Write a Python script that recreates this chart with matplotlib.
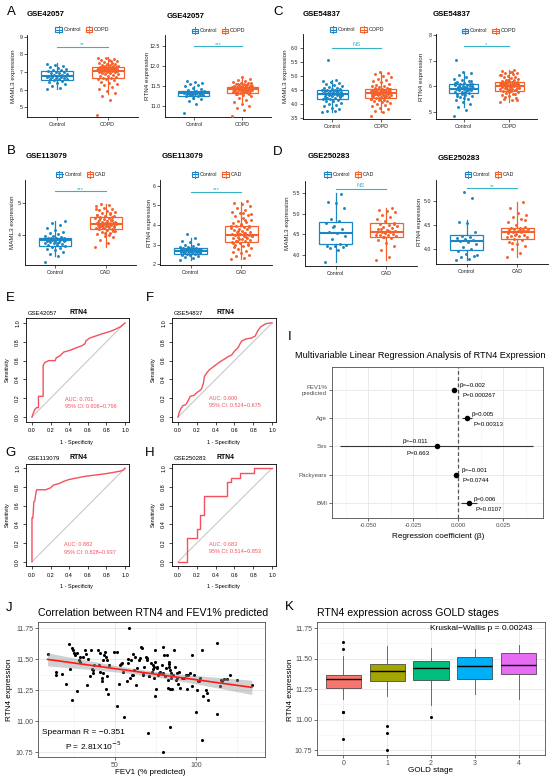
import numpy as np
import matplotlib
matplotlib.use('Agg')
import matplotlib.pyplot as plt
from matplotlib.patches import Rectangle

plt.rcParams['font.family'] = ['Liberation Sans', 'DejaVu Sans']

# ---------------- DATA ----------------
GROUPS_COPD = ['Control', 'COPD']
GROUPS_CAD = ['Control', 'CAD']

# Panel A (GSE42057)
A_MAML3_CTRL = [6.05, 6.12, 6.22, 6.30, 6.38, 6.45, 6.50, 6.55, 6.58, 6.60, 6.63, 6.66, 6.68, 6.70, 6.72,
                6.74, 6.76, 6.77, 6.79, 6.82, 6.85, 6.88, 6.92, 6.95, 6.99, 7.03, 7.06, 7.09, 7.12, 7.18,
                7.24, 7.30, 7.36, 7.42, 7.47]
A_MAML3_COPD = [4.55, 5.40, 5.65, 5.80, 5.95, 6.05, 6.15, 6.25, 6.32, 6.40, 6.46, 6.52, 6.58, 6.62, 6.65,
                6.68, 6.72, 6.76, 6.80, 6.84, 6.88, 6.91, 6.94, 6.97, 6.99, 7.01, 7.03, 7.04, 7.05, 7.06,
                7.07, 7.08, 7.09, 7.10, 7.11, 7.12, 7.13, 7.14, 7.15, 7.16, 7.17, 7.18, 7.19, 7.20, 7.21,
                7.22, 7.23, 7.24, 7.25, 7.26, 7.27, 7.28, 7.30, 7.32, 7.34, 7.36, 7.38, 7.40, 7.43, 7.46,
                7.50, 7.54, 7.58, 7.62, 7.66, 7.70, 7.74, 7.78, 7.82, 7.60]
A_RTN4_CTRL = [10.83, 11.05, 11.12, 11.18, 11.21, 11.24, 11.26, 11.27, 11.28, 11.29, 11.30, 11.31, 11.31,
               11.32, 11.32, 11.33, 11.33, 11.34, 11.35, 11.35, 11.36, 11.37, 11.38, 11.40, 11.42, 11.45,
               11.50, 11.53, 11.55, 11.58, 11.60, 11.63, 11.30, 11.28, 11.34]
A_RTN4_COPD = [10.75, 10.90, 10.95, 11.00, 11.05, 11.10, 11.15, 11.20, 11.24, 11.27, 11.30, 11.32, 11.33,
               11.34, 11.35, 11.36, 11.37, 11.38, 11.39, 11.40, 11.40, 11.41, 11.41, 11.42, 11.42, 11.43,
               11.43, 11.44, 11.44, 11.45, 11.45, 11.46, 11.46, 11.47, 11.47, 11.48, 11.48, 11.49, 11.50,
               11.51, 11.52, 11.53, 11.54, 11.55, 11.56, 11.57, 11.58, 11.60, 11.62, 11.65, 11.68, 11.72,
               11.36, 11.38, 11.44, 11.49, 11.35, 11.31, 11.29, 11.39, 11.47, 11.52, 11.55, 11.58, 11.42, 11.45]
# box stats: (q1, median, q3, whisker_low, whisker_high)
A_MAML3_BOX = [(6.56, 6.77, 7.08, 6.06, 7.49), (6.67, 7.08, 7.27, 5.78, 7.83)]
A_RTN4_BOX = [(11.26, 11.32, 11.37, 11.17, 11.49), (11.33, 11.43, 11.48, 11.09, 11.72)]

# Panel C (GSE54837)
C_MAML3_CTRL = [3.70, 3.72, 3.75, 3.80, 3.85, 3.90, 3.95, 4.00, 4.04, 4.08, 4.11, 4.14, 4.16, 4.18, 4.20,
                4.22, 4.24, 4.26, 4.28, 4.30, 4.31, 4.32, 4.33, 4.34, 4.35, 4.36, 4.37, 4.38, 4.40, 4.41,
                4.42, 4.44, 4.45, 4.46, 4.48, 4.49, 4.50, 4.52, 4.54, 4.56, 4.58, 4.60, 4.63, 4.66, 4.70,
                4.74, 4.78, 4.82, 4.85, 5.56, 4.27, 4.39, 4.21, 4.47, 4.36]
C_MAML3_COPD = [3.55, 3.70, 3.75, 3.80, 3.85, 3.90, 3.94, 3.98, 4.02, 4.05, 4.08, 4.11, 4.14, 4.17, 4.19,
                4.21, 4.23, 4.25, 4.27, 4.28, 4.30, 4.31, 4.32, 4.33, 4.34, 4.35, 4.36, 4.37, 4.38, 4.39,
                4.40, 4.41, 4.42, 4.43, 4.44, 4.45, 4.46, 4.47, 4.48, 4.49, 4.50, 4.51, 4.52, 4.53, 4.55,
                4.57, 4.59, 4.62, 4.65, 4.68, 4.72, 4.76, 4.80, 4.85, 4.90, 4.95, 5.00, 5.05, 5.10, 5.15,
                4.26, 4.29, 4.36, 4.41, 4.46, 4.33, 4.38, 4.22, 4.18, 4.12, 4.48, 4.52, 4.43, 4.35]
C_RTN4_CTRL = [4.83, 5.07, 5.20, 5.30, 5.38, 5.45, 5.52, 5.58, 5.63, 5.67, 5.70, 5.73, 5.76, 5.79, 5.82,
               5.84, 5.86, 5.88, 5.90, 5.91, 5.92, 5.94, 5.96, 5.98, 6.00, 6.02, 6.04, 6.06, 6.08, 6.10,
               6.13, 6.16, 6.20, 6.25, 6.30, 6.36, 6.42, 6.50, 6.57, 7.02, 5.85, 5.95, 6.01, 5.78, 5.89,
               6.07, 5.68, 6.12, 5.93, 5.99, 6.22, 5.55, 5.61]
C_RTN4_COPD = [5.39, 5.45, 5.50, 5.55, 5.60, 5.65, 5.70, 5.74, 5.78, 5.81, 5.83, 5.85, 5.87, 5.89, 5.91,
               5.93, 5.95, 5.97, 5.98, 5.99, 6.00, 6.01, 6.02, 6.03, 6.04, 6.05, 6.06, 6.07, 6.08, 6.09,
               6.10, 6.11, 6.12, 6.13, 6.14, 6.15, 6.16, 6.17, 6.19, 6.21, 6.23, 6.26, 6.29, 6.32, 6.35,
               6.38, 6.41, 6.44, 6.47, 6.50, 6.53, 6.56, 6.60, 6.63, 5.88, 5.94, 6.02, 6.08, 5.84, 5.76,
               6.13, 6.18, 5.96, 6.04, 5.91, 6.10, 5.68, 6.25, 6.45, 6.55, 5.58, 5.48]
C_MAML3_BOX = [(4.18, 4.33, 4.50, 3.71, 4.85), (4.21, 4.39, 4.53, 3.69, 5.15)]
C_RTN4_BOX = [(5.72, 5.91, 6.08, 5.20, 6.57), (5.82, 6.00, 6.17, 5.39, 6.63)]

# Panel B (GSE113079)
B_MAML3_CTRL = [3.16, 3.32, 3.40, 3.46, 3.52, 3.56, 3.60, 3.63, 3.65, 3.67, 3.69, 3.71, 3.73, 3.75, 3.77,
                3.79, 3.80, 3.81, 3.82, 3.83, 3.84, 3.85, 3.86, 3.86, 3.87, 3.87, 3.88, 3.88, 3.89, 3.89,
                3.90, 3.91, 3.93, 3.95, 3.98, 4.02, 4.06, 4.10, 4.16, 4.22, 4.30, 4.38, 4.44, 3.74, 3.83]
B_MAML3_CAD = [3.61, 3.75, 3.85, 3.92, 3.98, 4.03, 4.07, 4.10, 4.13, 4.15, 4.17, 4.19, 4.21, 4.23, 4.25,
               4.27, 4.28, 4.29, 4.30, 4.31, 4.32, 4.33, 4.34, 4.35, 4.36, 4.37, 4.38, 4.39, 4.40, 4.42,
               4.44, 4.46, 4.48, 4.50, 4.52, 4.54, 4.56, 4.58, 4.60, 4.63, 4.66, 4.69, 4.72, 4.75, 4.78,
               4.82, 4.86, 4.90, 4.94, 4.98, 4.26, 4.33, 4.41, 4.47, 4.22, 4.36, 4.29, 4.53, 4.12, 4.05,
               4.62, 4.70, 4.31, 4.38, 4.45, 4.24, 4.57, 4.35, 4.80, 4.00]
B_RTN4_CTRL = [2.22, 2.30, 2.36, 2.41, 2.45, 2.48, 2.51, 2.53, 2.55, 2.57, 2.59, 2.61, 2.63, 2.64, 2.65,
               2.66, 2.67, 2.68, 2.69, 2.70, 2.71, 2.72, 2.73, 2.74, 2.75, 2.76, 2.77, 2.78, 2.79, 2.80,
               2.81, 2.82, 2.84, 2.87, 2.90, 2.94, 2.98, 3.04, 3.12, 3.20, 3.33, 3.52, 2.62, 2.72, 2.58]
B_RTN4_CAD = [2.26, 2.32, 2.40, 2.48, 2.55, 2.62, 2.70, 2.78, 2.85, 2.92, 2.98, 3.04, 3.08, 3.12, 3.16,
              3.20, 3.24, 3.28, 3.32, 3.36, 3.40, 3.43, 3.46, 3.48, 3.50, 3.52, 3.55, 3.58, 3.62, 3.66,
              3.70, 3.74, 3.78, 3.82, 3.86, 3.90, 3.94, 3.97, 4.02, 4.08, 4.14, 4.20, 4.28, 4.36, 4.44,
              4.52, 4.60, 4.68, 4.76, 4.85, 4.95, 5.05, 5.15, 5.25, 3.30, 3.45, 3.60, 3.18, 3.88, 4.05,
              3.10, 3.38, 3.72, 4.55, 4.62, 2.88, 3.00, 3.53, 3.95, 4.25]
B_MAML3_BOX = [(3.66, 3.84, 3.90, 3.32, 4.44), (4.18, 4.34, 4.56, 3.61, 4.98)]
B_RTN4_BOX = [(2.53, 2.70, 2.82, 2.22, 3.33), (3.12, 3.50, 3.97, 2.26, 5.20)]

# Panel D (GSE250283)
D_MAML3_CTRL = [3.83, 4.12, 4.15, 4.18, 4.20, 4.22, 4.26, 4.38, 4.45, 4.52, 4.56, 4.62, 4.70, 4.78, 4.82,
                4.86, 5.15, 5.25, 5.29, 5.48, 4.68, 4.24]
D_MAML3_CAD = [3.87, 3.93, 4.10, 4.20, 4.28, 4.35, 4.40, 4.43, 4.45, 4.47, 4.49, 4.50, 4.52, 4.54, 4.55,
               4.56, 4.58, 4.60, 4.62, 4.65, 4.68, 4.70, 4.73, 4.76, 4.78, 4.82, 4.87, 4.93, 4.98, 5.03,
               5.07, 5.10, 5.13, 4.42, 4.48, 4.57, 4.63, 4.75]
D_RTN4_CTRL = [3.77, 3.80, 3.83, 3.86, 3.90, 3.95, 4.00, 4.05, 4.10, 4.15, 4.17, 4.18, 4.20, 4.22, 4.25,
               4.28, 4.35, 4.53, 4.57, 5.05, 5.19, 3.88]
D_RTN4_CAD = [3.84, 3.92, 4.00, 4.06, 4.10, 4.14, 4.18, 4.21, 4.24, 4.26, 4.28, 4.30, 4.32, 4.34, 4.35,
              4.36, 4.37, 4.38, 4.39, 4.40, 4.41, 4.42, 4.43, 4.44, 4.46, 4.50, 4.55, 4.62, 4.66, 4.70,
              4.75, 4.85, 4.98, 4.30, 4.25, 4.40, 4.12, 4.60]
D_MAML3_BOX = [(4.25, 4.52, 4.79, 3.83, 5.50), (4.42, 4.55, 4.78, 3.87, 5.13)]
D_RTN4_BOX = [(3.98, 4.17, 4.30, 3.77, 4.60), (4.21, 4.36, 4.44, 3.84, 4.98)]

SIG_LABELS = {'A1': '**', 'A2': '***', 'C1': 'NS', 'C2': '*', 'B1': '***', 'B2': '***', 'D1': 'NS', 'D2': '**'}

# ROC curves (1 - specificity, sensitivity)
E_FPR = [0, 0.01, 0.03, 0.05, 0.07, 0.07, 0.12, 0.12, 0.14, 0.18, 0.25, 0.26, 0.30, 0.34, 0.41, 0.46,
         0.54, 0.57, 0.58, 0.62, 0.68, 0.77, 0.84, 0.89, 0.95, 1.0]
E_TPR = [0, 0.03, 0.08, 0.10, 0.10, 0.22, 0.22, 0.55, 0.58, 0.60, 0.60, 0.63, 0.65, 0.69, 0.71, 0.73,
         0.76, 0.78, 0.81, 0.84, 0.86, 0.89, 0.91, 0.93, 0.96, 1.0]
F_FPR = [0, 0.01, 0.03, 0.05, 0.08, 0.10, 0.13, 0.17, 0.20, 0.23, 0.25, 0.27, 0.28, 0.30, 0.33, 0.37,
         0.41, 0.45, 0.50, 0.53, 0.57, 0.60, 0.64, 0.66, 0.68, 0.72, 0.78, 0.82, 0.85, 0.88, 0.93, 0.97, 1.0]
F_TPR = [0, 0.04, 0.09, 0.12, 0.13, 0.16, 0.22, 0.23, 0.26, 0.28, 0.30, 0.36, 0.43, 0.46, 0.50, 0.53,
         0.56, 0.59, 0.62, 0.64, 0.66, 0.70, 0.74, 0.78, 0.81, 0.83, 0.84, 0.86, 0.92, 0.96, 0.99, 1.0, 1.0]
G_FPR = [0, 0.0, 0.01, 0.02, 0.03, 0.04, 0.05, 0.15, 0.17, 0.20, 0.23, 0.27, 0.30, 0.34, 0.40, 0.45,
         0.50, 0.55, 0.62, 0.70, 0.78, 0.84, 0.90, 0.95, 0.98, 1.0]
G_TPR = [0, 0.47, 0.47, 0.64, 0.65, 0.72, 0.77, 0.77, 0.78, 0.79, 0.82, 0.83, 0.84, 0.86, 0.88, 0.89,
         0.90, 0.91, 0.92, 0.93, 0.94, 0.95, 0.96, 0.97, 0.98, 1.0]
H_FPR = [0, 0.09, 0.09, 0.20, 0.20, 0.23, 0.23, 0.28, 0.28, 0.52, 0.52, 0.56, 0.56, 0.66, 0.66, 0.81, 0.81, 1.0]
H_TPR = [0, 0, 0.25, 0.25, 0.35, 0.35, 0.50, 0.50, 0.70, 0.70, 0.85, 0.85, 0.90, 0.90, 0.95, 0.95, 1.0, 1.0]
ROC_AUC = ['AUC: 0.701', 'AUC: 0.600', 'AUC: 0.882', 'AUC: 0.683']
ROC_CI = ['95% CI: 0.606\u22120.796', '95% CI: 0.524\u22120.675', '95% CI: 0.828\u22120.937', '95% CI: 0.514\u22120.853']
ROC_SETS = ['GSE42057', 'GSE54837', 'GSE113079', 'GSE250283']

# Panel I: regression
REG_VARS = ['FEV1%\npredicted', 'Age', 'Sex', 'Packyears', 'BMI']
REG_BETA = [-0.0022, 0.0048, -0.0118, -0.0013, 0.0059]
REG_LO = [-0.0030, 0.0020, -0.0656, -0.0025, 0.0016]
REG_HI = [-0.0012, 0.0076, 0.0417, -0.0001, 0.0104]
REG_BETA_TXT = ['\u03b2=\u22120.002', '\u03b2=0.005', '\u03b2=\u22120.011', '\u03b2=\u22120.001', '\u03b2=0.006']
REG_P_TXT = ['P=0.000267', 'P=0.00313', 'P=0.663', 'P=0.0744', 'P=0.0107']

# Panel J: scatter FEV1 vs RTN4
J_FEV1 = [8.4, 13.4, 13.4, 17.5, 19.5, 21.6, 23.7, 24.3, 24.7, 25.3, 26.7, 27.8, 23.2, 26.7, 22.2, 28.4,
          28.4, 30.4, 31.5, 31.9, 33.1, 35.2, 32.9, 34.6, 35.6, 36.2, 37.2, 36.6, 39.3, 39.9, 40.7, 41.8,
          41.8, 42.4, 42.8, 43.2, 44.0, 44.4, 44.9, 44.4, 45.3, 45.5, 46.3, 40.7, 49.6, 51.0, 51.4, 52.5,
          53.1, 53.5, 54.1, 55.6, 55.1, 57.6, 58.2, 58.2, 58.6, 59.3, 59.7, 60.5, 61.3, 60.9, 61.7, 62.3,
          63.0, 63.8, 65.0, 65.4, 65.8, 66.5, 67.1, 67.5, 67.9, 68.9, 69.6, 70.0, 70.6, 71.0, 71.2, 72.0,
          72.6, 73.3, 73.7, 74.1, 74.3, 74.5, 74.7, 74.7, 75.3, 75.7, 76.1, 76.8, 77.4, 77.8, 78.8, 79.4,
          79.8, 79.8, 80.5, 80.9, 81.3, 81.9, 82.5, 82.9, 83.3, 83.5, 83.5, 84.0, 84.0, 84.2, 84.4, 84.8,
          85.4, 86.0, 86.4, 87.0, 87.7, 88.1, 88.1, 89.1, 89.5, 90.1, 91.2, 91.8, 92.6, 93.6, 94.2, 94.7,
          95.3, 96.3, 97.3, 97.5, 99.0, 100.0, 100.4, 101.0, 101.5, 102.5, 103.9, 103.9, 104.5, 106.0,
          107.0, 107.6, 112.8, 113.2, 114.8, 115.2, 115.9, 117.3, 118.9, 121.0, 125.1, 134.4]
J_RTN4 = [11.54, 11.40, 11.37, 11.38, 11.30, 11.62, 11.59, 11.57, 11.55, 11.53, 11.55, 11.49, 11.17, 11.24,
          11.42, 11.52, 11.48, 11.52, 11.57, 11.54, 11.50, 11.57, 11.29, 11.36, 11.42, 11.41, 11.45, 11.39,
          11.57, 11.45, 11.55, 11.35, 11.32, 11.39, 11.49, 11.53, 11.56, 11.52, 11.49, 11.26, 11.36, 11.22,
          11.45, 11.40, 11.56, 11.56, 11.12, 11.30, 11.45, 11.46, 11.47, 11.03, 11.40, 11.32, 11.47, 11.50,
          11.75, 11.35, 11.49, 11.37, 11.37, 11.54, 11.41, 11.52, 11.29, 11.43, 11.49, 11.51, 11.60, 11.59,
          11.37, 11.38, 11.44, 11.52, 11.51, 11.49, 10.90, 11.36, 11.36, 11.47, 11.40, 11.45, 11.42, 11.44,
          11.35, 11.48, 11.57, 11.20, 11.26, 11.44, 11.43, 11.37, 11.39, 11.40, 11.45, 11.39, 11.60, 10.75,
          11.53, 11.36, 11.43, 11.53, 11.33, 11.27, 11.46, 11.48, 11.44, 10.95, 11.41, 11.26, 11.35, 11.39,
          11.26, 11.37, 11.57, 11.44, 11.33, 11.35, 11.39, 11.30, 11.40, 11.27, 11.35, 11.35, 11.35, 11.37,
          11.37, 11.26, 11.37, 11.39, 11.53, 11.28, 11.37, 11.07, 11.25, 11.32, 11.32, 11.35, 11.57, 10.85,
          11.20, 11.25, 11.23, 11.17, 11.63, 11.06, 11.28, 11.33, 11.32, 11.34, 11.34, 11.37, 11.33, 11.29]

# Panel K: GOLD stage boxes
K_STAGES = ['0', '1', '2', '3', '4']
K_Q1 = [11.26, 11.317, 11.328, 11.336, 11.371]
K_MED = [11.336, 11.401, 11.42, 11.437, 11.45]
K_Q3 = [11.369, 11.456, 11.483, 11.51, 11.543]
K_WLO = [11.172, 11.194, 11.118, 11.21, 11.17]
K_WHI = [11.52, 11.60, 11.589, 11.578, 11.608]
K_OUT = [[11.636, 11.576, 11.065, 11.06, 10.845], [10.949, 10.892, 10.753], [11.02], [], []]

# ---------------- STYLE ----------------
W, H = 550, 781
C_BLUE = '#1B86C3'
C_ORANGE = '#F4612B'
C_SIG = '#36B3C8'
C_ROC = '#F5505E'
K_COLORS = ['#F8766D', '#A3A500', '#00BF7D', '#00B0F6', '#E76BF3']

fig = plt.figure(figsize=(5.5, 7.81), dpi=100)


def rect(l, t, r, b):
    return [l / W, 1 - b / H, (r - l) / W, (b - t) / H]


texts = []  # (x, y, text, kwargs) drawn on canvas at the end


def box_panel(px, ctrl, case, boxes, ylim, yticks, fmt, sig, sig_y, groups):
    ax = fig.add_axes(rect(*px))
    for pos, vals, st, col in [(1, ctrl, boxes[0], C_BLUE), (2, case, boxes[1], C_ORANGE)]:
        q1, med, q3, lo, hi = st
        ax.bxp([dict(med=med, q1=q1, q3=q3, whislo=lo, whishi=hi, fliers=[])], positions=[pos],
               widths=0.64, showfliers=False, showcaps=False, patch_artist=True,
               boxprops=dict(facecolor='white', edgecolor=col, linewidth=0.9),
               medianprops=dict(color=col, linewidth=1.5),
               whiskerprops=dict(color=col, linewidth=0.9))
        v = np.asarray(vals)
        off = ((np.arange(len(v)) * 0.6180339887) % 1 - 0.5) * 0.42
        ax.scatter(pos + off, v, s=4.5, color=col, linewidths=0, zorder=3)
    ax.plot([1, 2], [sig_y, sig_y], color=C_SIG, lw=0.8)
    ax.annotate(sig, xy=(1.5, sig_y), xytext=(0, 1.0 if sig == 'NS' else -0.5),
                textcoords='offset points', ha='center', va='bottom', color=C_SIG, fontsize=4.2)
    ax.set_xlim(0.4, 2.6)
    ax.set_ylim(*ylim)
    ax.spines['top'].set_visible(False)
    ax.spines['right'].set_visible(False)
    for s in ['left', 'bottom']:
        ax.spines[s].set_linewidth(0.6)
    ax.set_xticks([1, 2], groups)
    ax.set_yticks(yticks, [fmt % t for t in yticks])
    ax.tick_params(labelsize=3.8, length=2, width=0.5, pad=1.3, colors='#222222')
    return ax


def legend_icons(cv, x0, y, groups):
    for i, (col, lab) in enumerate([(C_BLUE, groups[0]), (C_ORANGE, groups[1])]):
        xc = x0 + i * 30.5
        cv.plot([xc, xc], [y - 3.3, y + 3.3], color=col, lw=0.7, zorder=2)
        cv.add_patch(Rectangle((xc - 3.2, y - 2.2), 6.4, 4.4, facecolor='white', edgecolor=col, lw=0.8, zorder=3))
        cv.plot([xc - 3.2, xc + 3.2], [y, y], color=col, lw=0.8, zorder=4)
        cv.plot([xc, xc], [y - 2.2, y + 2.2], color=col, lw=0.5, zorder=4)
        texts.append((xc + 5, y, lab, dict(fontsize=3.9, ha='left', va='center', color='#222222')))


panels = [
    # px, ctrl, case, boxes, ylim, yticks, fmt, sig key, sig_y, groups, title, title_xy, leg_xy, ylabel, ylab_x
    ((27, 35, 138, 117), A_MAML3_CTRL, A_MAML3_COPD, A_MAML3_BOX, (4.45, 9.1), [5, 6, 7, 8, 9], '%d', 'A1', 8.44,
     GROUPS_COPD, 'GSE42057', (27, 14), (58.5, 29.5), 'MAML3 expression', 14),
    ((165, 35, 271, 117), A_RTN4_CTRL, A_RTN4_COPD, A_RTN4_BOX, (10.72, 12.79), [11.0, 11.5, 12.0, 12.5], '%.1f', 'A2', 12.5,
     GROUPS_COPD, 'GSE42057', (167, 16), (194.7, 30.7), 'RTN4 expression', 147.5),
    ((303, 34, 410, 119), C_MAML3_CTRL, C_MAML3_COPD, C_MAML3_BOX, (3.45, 6.5), [3.5, 4.0, 4.5, 5.0, 5.5, 6.0], '%.1f', 'C1', 6.0,
     GROUPS_COPD, 'GSE54837', (303, 14), (333, 29.5), 'MAML3 expression', 286),
    ((436, 34, 537, 119), C_RTN4_CTRL, C_RTN4_COPD, C_RTN4_BOX, (4.72, 8.04), [5, 6, 7, 8], '%d', 'C2', 7.57,
     GROUPS_COPD, 'GSE54837', (433, 15), (465, 31), 'RTN4 expression', 422),
    ((25, 180, 136, 265), B_MAML3_CTRL, B_MAML3_CAD, B_MAML3_BOX, (3.05, 5.73), [4, 5], '%d', 'B1', 5.37,
     GROUPS_CAD, 'GSE113079', (26, 156), (59.3, 174.3), 'MAML3 expression', 13),
    ((160, 180, 272, 265), B_RTN4_CTRL, B_RTN4_CAD, B_RTN4_BOX, (1.96, 6.3), [2, 3, 4, 5, 6], '%d', 'B2', 5.71,
     GROUPS_CAD, 'GSE113079', (162, 157), (195, 174.3), 'RTN4 expression', 149),
    ((305, 181, 417, 266), D_MAML3_CTRL, D_MAML3_CAD, D_MAML3_BOX, (3.72, 5.80), [4.0, 4.5, 5.0, 5.5], '%.1f', 'D1', 5.6,
     GROUPS_CAD, 'GSE250283', (308, 157), (327.3, 174.3), 'MAML3 expression', 288),
    ((436, 180, 548, 264), D_RTN4_CTRL, D_RTN4_CAD, D_RTN4_BOX, (3.69, 5.43), [4.0, 4.5, 5.0], '%.1f', 'D2', 5.26,
     GROUPS_CAD, 'GSE250283', (438, 158), (467.7, 174.3), 'RTN4 expression', 419),
]

for (px, ctrl, case, boxes, ylim, yticks, fmt, sk, sig_y, groups, title, txy, lxy, ylab, ylx) in panels:
    box_panel(px, ctrl, case, boxes, ylim, yticks, fmt, SIG_LABELS[sk], sig_y, groups)
    texts.append((txy[0], txy[1], title, dict(fontsize=5.6, fontweight='bold', ha='left', va='center')))
    texts.append((ylx, (px[1] + px[3]) / 2, ylab, dict(fontsize=4.5, rotation=90, ha='center', va='center', color='#222222')))

# ---------------- ROC panels ----------------
roc_specs = [
    ((26.4, 318.3, 128.7, 421.7), E_FPR, E_TPR, 0, (0.36, 0.19, 0.115)),
    ((172.4, 318.3, 275.8, 421.7), F_FPR, F_TPR, 1, (0.33, 0.20, 0.125)),
    ((26.4, 463.6, 128.7, 566.4), G_FPR, G_TPR, 2, (0.34, 0.18, 0.10)),
    ((172.4, 463.6, 275.8, 566.4), H_FPR, H_TPR, 3, (0.33, 0.18, 0.105)),
]
for px, fpr, tpr, k, (tx, ty1, ty2) in roc_specs:
    ax = fig.add_axes(rect(*px))
    ax.plot([0, 1], [0, 1], color='#C8C8C8', lw=0.8)
    ax.plot(fpr, tpr, color=C_ROC, lw=1.0)
    ax.set_xlim(-0.06, 1.04)
    ax.set_ylim(-0.05, 1.05)
    ticks = np.round(np.arange(0, 1.01, 0.2), 1)
    ax.set_xticks(ticks, ['%.1f' % t for t in ticks])
    ax.set_yticks(ticks, ['%.1f' % t for t in ticks], rotation=90, va='center')
    ax.tick_params(labelsize=4.0, length=2.5, width=0.5, pad=2)
    for s in ax.spines.values():
        s.set_linewidth(0.6)
    ax.text(tx, ty1, ROC_AUC[k], color=C_ROC, fontsize=4.0, ha='left', va='center')
    ax.text(tx, ty2, ROC_CI[k], color=C_ROC, fontsize=4.0, ha='left', va='center')
    cx = (px[0] + px[2]) / 2
    texts.append((px[0] + 1.5, px[1] - 5, ROC_SETS[k], dict(fontsize=4.3, ha='left', va='center')))
    texts.append((cx + 1, px[1] - 6, 'RTN4', dict(fontsize=4.9, fontweight='bold', ha='center', va='center')))
    texts.append((cx - 1, px[3] + 20.5, '1 - Specificity', dict(fontsize=4.0, ha='center', va='center')))
    texts.append((px[0] - 19.5, (px[1] + px[3]) / 2, 'Sensitivity', dict(fontsize=4.0, rotation=90, ha='center', va='center')))


def theme_bw(ax):
    ax.set_facecolor('white')
    for s in ax.spines.values():
        s.set_color('#4D4D4D')
        s.set_linewidth(0.6)
    ax.grid(True, which='major', color='#E6E6E6', lw=0.6)
    ax.grid(True, which='minor', color='#F2F2F2', lw=0.4)
    ax.set_axisbelow(True)
    ax.tick_params(which='major', length=2, width=0.5, color='#333333', labelcolor='#4D4D4D', pad=1.5)
    ax.tick_params(which='minor', length=0)


# ---------------- Panel I ----------------
axi = fig.add_axes(rect(332, 367, 543, 518))
theme_bw(axi)
ypos = np.arange(len(REG_VARS), 0, -1)
axi.axvline(0, color='#555555', lw=0.9, ls=(0, (3, 2)), zorder=1)
axi.hlines(ypos, REG_LO, REG_HI, color='#333333', lw=0.8, zorder=2)
axi.scatter(REG_BETA, ypos, s=16, color='black', zorder=3, linewidths=0)
axi.set_xlim(-0.070, 0.0472)
axi.set_ylim(0.47, 5.81)
axi.set_xticks([-0.05, -0.025, 0.0, 0.025], ['-0.050', '-0.025', '0.000', '0.025'])
axi.set_xticks([-0.0625, -0.0375, -0.0125, 0.0125, 0.0375], minor=True)
axi.set_yticks(ypos, REG_VARS)
axi.tick_params(labelsize=4.4)
beta_off = [(5.7, 4.0, 'left'), (5.0, 4.0, 'left'), (-21.8, 5.3, 'center'), (6.0, 4.3, 'left'), (4.7, 4.0, 'left')]
p_off = [(8.4, -5.7, 'left'), (6.7, -6.0, 'left'), (-18.8, -7.0, 'center'), (7.0, -5.7, 'left'), (6.4, -6.0, 'left')]
for i in range(len(REG_VARS)):
    bx, by, bha = beta_off[i]
    qx, qy, qha = p_off[i]
    axi.annotate(REG_BETA_TXT[i], xy=(REG_BETA[i], ypos[i]), xytext=(bx, by), textcoords='offset pixels',
                 ha=bha, va='center', fontsize=4.4)
    axi.annotate(REG_P_TXT[i], xy=(REG_BETA[i], ypos[i]), xytext=(qx, qy), textcoords='offset pixels',
                 ha=qha, va='center', fontsize=4.4)
texts.append((420, 355, 'Multivariable Linear Regression Analysis of RTN4 Expression',
              dict(fontsize=6.6, ha='center', va='center')))
texts.append((438, 537, 'Regression coefficient (\u03b2)', dict(fontsize=5.9, ha='center', va='center')))

# ---------------- Panel J ----------------
axj = fig.add_axes(rect(38, 622, 265, 757))
theme_bw(axj)
jx = np.asarray(J_FEV1)
jy = np.asarray(J_RTN4)
b1, b0 = np.polyfit(jx, jy, 1)
xs = np.linspace(jx.min(), jx.max(), 100)
yh = b0 + b1 * xs
n = len(jx)
res = jy - (b0 + b1 * jx)
sres = np.sqrt(np.sum(res ** 2) / (n - 2))
se = sres * np.sqrt(1 / n + (xs - jx.mean()) ** 2 / np.sum((jx - jx.mean()) ** 2))
axj.scatter(jx, jy, s=5, color='black', linewidths=0, zorder=3)
axj.fill_between(xs, yh - 1.976 * se, yh + 1.976 * se, color='#999999', alpha=0.45, lw=0, zorder=4)
axj.plot(xs, yh, color='#FF1A1A', lw=1.2, zorder=5)
axj.set_xlim(2.5, 142.5)
axj.set_ylim(10.71, 11.80)
axj.set_xticks([50, 100])
axj.set_xticks([25, 75, 125], minor=True)
yt = [10.75, 11.0, 11.25, 11.5, 11.75]
axj.set_yticks(yt, ['%.2f' % t for t in yt])
axj.set_yticks([10.875, 11.125, 11.375, 11.625], minor=True)
axj.tick_params(labelsize=5.0)
texts.append((38, 613, 'Correlation between RTN4 and FEV1% predicted', dict(fontsize=7.6, ha='left', va='center')))
texts.append((150, 773, 'FEV1 (% predicted)', dict(fontsize=5.9, ha='center', va='center')))
texts.append((10, 690, 'RTN4 expression', dict(fontsize=5.9, rotation=90, ha='center', va='center')))
texts.append((42, 733, 'Spearman R = \u22120.351', dict(fontsize=6.0, ha='left', va='center')))
texts.append((65, 745.5, 'P = 2.81X10$^{\u22125}$', dict(fontsize=6.0, ha='left', va='center')))

# ---------------- Panel K ----------------
axk = fig.add_axes(rect(317, 622, 545, 755))
theme_bw(axk)
kstats = [dict(med=K_MED[i], q1=K_Q1[i], q3=K_Q3[i], whislo=K_WLO[i], whishi=K_WHI[i], fliers=K_OUT[i])
          for i in range(len(K_STAGES))]
bp = axk.bxp(kstats, positions=range(len(K_STAGES)), widths=0.8, patch_artist=True, showcaps=False,
             flierprops=dict(marker='o', markersize=2.2, markerfacecolor='black', markeredgecolor='none'),
             medianprops=dict(color='black', lw=1.0),
             boxprops=dict(edgecolor='#333333', lw=0.5),
             whiskerprops=dict(color='#555555', lw=0.6))
for patch, col in zip(bp['boxes'], K_COLORS):
    patch.set_facecolor(col)
axk.set_xlim(-0.6, 4.6)
axk.set_ylim(10.71, 11.80)
axk.set_xticks(range(len(K_STAGES)), K_STAGES)
axk.set_yticks(yt, ['%.2f' % t for t in yt])
axk.set_yticks([10.875, 11.125, 11.375, 11.625], minor=True)
axk.tick_params(labelsize=5.0)
texts.append((317, 613, 'RTN4 expression across GOLD stages', dict(fontsize=7.6, ha='left', va='center')))
texts.append((430, 770, 'GOLD stage', dict(fontsize=5.9, ha='center', va='center')))
texts.append((290, 690, 'RTN4 expression', dict(fontsize=5.9, rotation=90, ha='center', va='center')))
texts.append((532, 629, 'Kruskal\u2212Wallis p = 0.00243', dict(fontsize=6.0, ha='right', va='center')))

# ---------------- Canvas (letters, titles, legends) ----------------
cv = fig.add_axes([0, 0, 1, 1])
cv.set_xlim(0, W)
cv.set_ylim(H, 0)
cv.axis('off')
cv.patch.set_visible(False)
for (px, ctrl, case, boxes, ylim, yticks, fmt, sk, sig_y, groups, title, txy, lxy, ylab, ylx) in panels:
    legend_icons(cv, lxy[0], lxy[1], groups)

letters = [('A', 11, 12), ('C', 278, 12), ('B', 11.5, 151), ('D', 278, 152), ('E', 10, 298), ('F', 150, 298),
           ('G', 11, 453), ('H', 150, 453), ('I', 290, 337), ('J', 9, 608), ('K', 289, 607)]
for t, x, y in letters:
    cv.text(x, y, t, fontsize=9.5, ha='center', va='center')
for x, y, t, kw in texts:
    cv.text(x, y, t, **kw)

fig.savefig('out.png', dpi=100)
